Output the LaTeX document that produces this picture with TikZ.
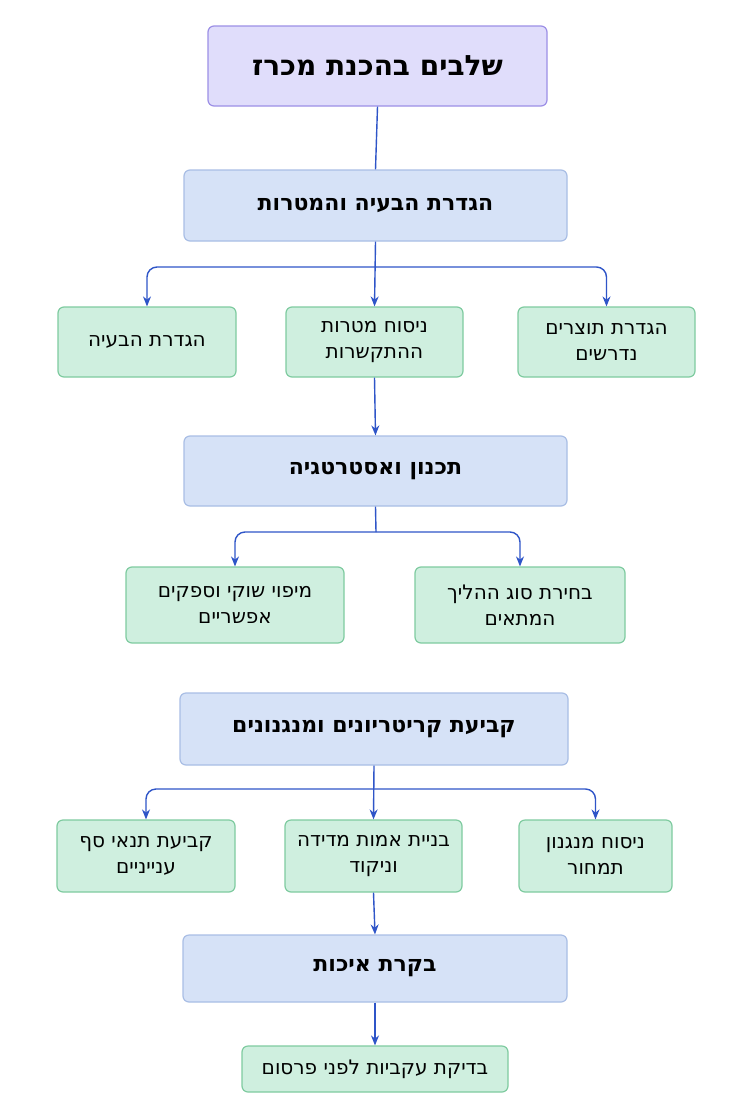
\documentclass[tikz,border=0pt]{standalone}
\usepackage{fontspec}
\setmainfont[Script=Hebrew]{DejaVu Sans}
\TeXXeTstate=1
\newcommand{\heb}[1]{\beginR #1\endR}
\usetikzlibrary{arrows.meta}
\definecolor{ttlf}{HTML}{E0DDFB}\definecolor{ttld}{HTML}{9C8FE6}
\definecolor{bluf}{HTML}{D6E2F7}\definecolor{blud}{HTML}{A9BEE5}
\definecolor{grnf}{HTML}{CFEFDF}\definecolor{grnd}{HTML}{7FCBA0}
\definecolor{lnc}{HTML}{2F55C8}
\begin{document}
\begin{tikzpicture}[x=0.5pt,y=-0.5pt,
 box/.style={draw,rounded corners=3pt,line width=0.6pt,inner sep=0pt,align=center},
 ttl/.style={box,fill=ttlf,draw=ttld,font=\bfseries\fontsize{14}{17}\selectfont},
 blu/.style={box,fill=bluf,draw=blud,font=\bfseries\fontsize{11}{14}\selectfont},
 grn/.style={box,fill=grnf,draw=grnd,font=\fontsize{10}{13}\selectfont},
 ln/.style={draw=lnc,line width=0.7pt,rounded corners=5pt},
 ar/.style={ln,-{Stealth[length=5pt,width=4pt]}}]
\path[use as bounding box,fill=white] (0,0) rectangle (739,1108);
\newcommand{\bx}[6]{\node[#1,minimum width={(#4-#3)*0.5pt},minimum height={(#6-#5)*0.5pt}] (#2) at ({(#3+#4)/2},{(#5+#6)/2}) }
\bx{ttl}{t}{208}{547}{26}{106} {\heb{שלבים בהכנת מכרז}};
\bx{blu}{b1}{184}{567}{170}{241} {\heb{הגדרת הבעיה והמטרות}};
\bx{grn}{g1}{58}{236}{307}{377} {\heb{הגדרת הבעיה}};
\bx{grn}{g2}{286}{463}{307}{377} {\heb{ניסוח מטרות}\\\heb{ההתקשרות}};
\bx{grn}{g3}{518}{695}{307}{377} {\heb{הגדרת תוצרים}\\\heb{נדרשים}};
\bx{blu}{b2}{184}{567}{436}{506} {\heb{תכנון ואסטרטגיה}};
\bx{grn}{g4}{126}{344}{567}{643} {\heb{מיפוי שוקי וספקים}\\\heb{אפשריים}};
\bx{grn}{g5}{415}{625}{567}{643} {\heb{בחירת סוג ההליך}\\\heb{המתאים}};
\bx{blu}{b3}{180}{568}{693}{765} {\heb{קביעת קריטריונים ומנגנונים}};
\bx{grn}{g6}{57}{235}{820}{892} {\heb{קביעת תנאי סף}\\\heb{ענייניים}};
\bx{grn}{g7}{285}{462}{820}{892} {\heb{בניית אמות מדידה}\\\heb{וניקוד}};
\bx{grn}{g8}{519}{672}{820}{892} {\heb{ניסוח מנגנון}\\\heb{תמחור}};
\bx{blu}{b4}{183}{567}{935}{1002} {\heb{בקרת איכות}};
\bx{grn}{g9}{242}{508}{1046}{1092} {\heb{בדיקת עקביות לפני פרסום}};
\coordinate (j1) at (376,267);
\coordinate (j2) at (376,532);
\coordinate (j3) at (374,789);
\draw[ln] (t.south) -- (b1.north);
\draw[ar] (b1.south) -- (g2.north);
\draw[ar] (j1) -| (g1.north);
\draw[ar] (j1) -| (g3.north);
\draw[ar] (g2.south) -- (b2.north);
\draw[ln] (b2.south) -- (j2);
\draw[ar] (j2) -| (g4.north);
\draw[ar] (j2) -| (g5.north);
\draw[ar] (b3.south) -- (g7.north);
\draw[ar] (j3) -| (g6.north);
\draw[ar] (j3) -| (g8.north);
\draw[ar] (g7.south) -- (b4.north);
\draw[ar] (b4.south) -- (g9.north);
\end{tikzpicture}
\end{document}
